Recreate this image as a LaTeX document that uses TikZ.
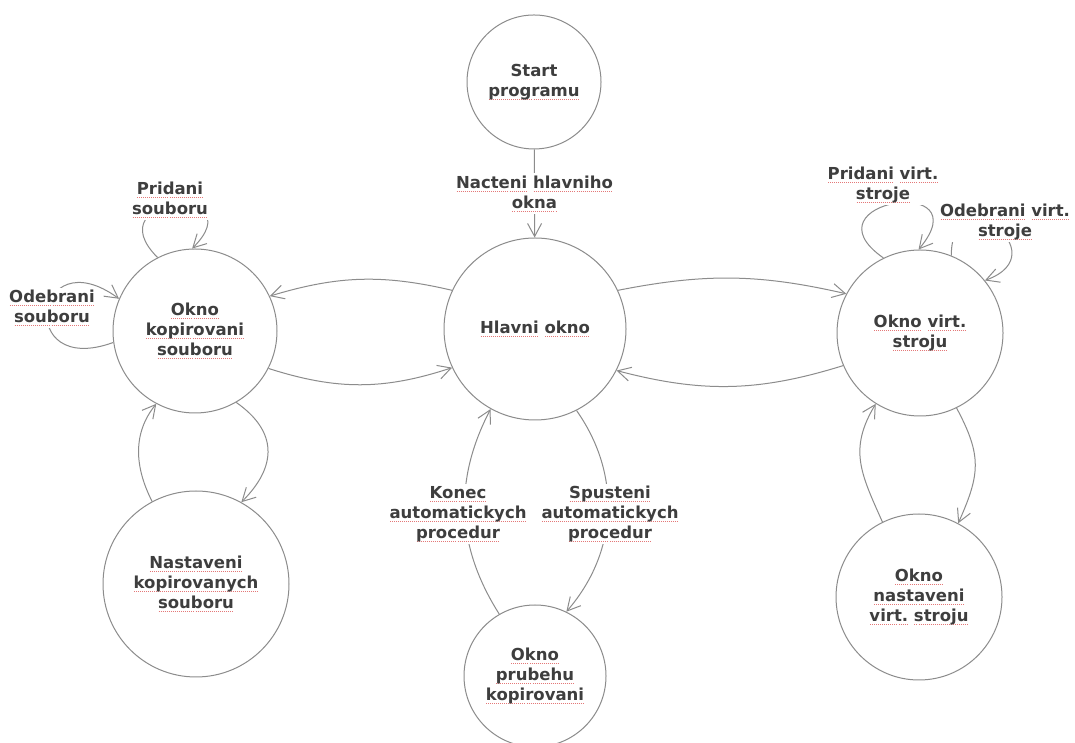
\documentclass[tikz,border=0pt]{standalone}
\usepackage{fontspec}
\setmainfont{DejaVu Sans}
\usetikzlibrary{arrows.meta}
\definecolor{edgegray}{RGB}{140,140,140}
\definecolor{txtgray}{RGB}{62,62,62}
\definecolor{sqred}{RGB}{228,120,120}
\newcommand{\sqw}[1]{\leavevmode\setbox0\hbox{#1}\rlap{\raisebox{-3.5pt}{\textcolor{sqred}{\hbox to \wd0{\xleaders\hbox to 2pt{\hss\rule{1pt}{0.9pt}\hss}\hfil}}}}\box0\relax}
\begin{document}
\begin{tikzpicture}[x=1pt,y=1pt,
  state/.style={circle, draw=edgegray, line width=1pt, inner sep=0pt},
  lbl/.style={font=\fontsize{16.5}{20}\selectfont\bfseries, text=txtgray, align=center},
  elabel/.style={lbl, fill=white, inner sep=2pt},
  edge/.style={draw=edgegray, line width=1pt, -{Straight Barb[length=13pt,width=14pt]}}]
\useasboundingbox (0,0) rectangle (1075,743);
\fill[white] (0,0) rectangle (1075,743);

% states
\node[state, lbl, minimum size=134pt] (start) at (534,661) {Start\\\sqw{programu}};
\node[state, lbl, minimum size=182pt] (main) at (535,414) {\sqw{Hlavni} \sqw{okno}};
\node[state, lbl, minimum size=164pt] (kop) at (195,412) {\sqw{Okno}\\\sqw{kopirovani}\\\sqw{souboru}};
\node[state, lbl, minimum size=186pt] (nastk) at (196,159) {\sqw{Nastaveni}\\\sqw{kopirovanych}\\\sqw{souboru}};
\node[state, lbl, minimum size=142pt] (prub) at (535,67) {\sqw{Okno}\\\sqw{prubehu}\\\sqw{kopirovani}};
\node[state, lbl, minimum size=166pt] (virt) at (920,410) {\sqw{Okno} \sqw{virt.}\\\sqw{stroju}};
\node[state, lbl, minimum size=166pt] (nastv) at (919,146) {\sqw{Okno}\\\sqw{nastaveni}\\\sqw{virt.} \sqw{stroju}};

% edges
\draw[edge] (start) -- node[elabel] (lnacteni) {\sqw{Nacteni} \sqw{hlavniho}\\\sqw{okna}} (main);
\draw[edge] (main.155) to[bend right=15] (kop.25);
\draw[edge] (kop.-27) to[bend right=18] (main.205);
\draw[edge] (main.25) to[bend left=12] (virt.152);
\draw[edge] (virt.203) to[bend left=16] (main.-27);
\draw[edge] (main.-63) to[bend left=38] (prub.64);
\draw[edge] (prub.120) to[bend left=30] (main.241);
\draw[edge] (kop.-60) to[out=-35,in=45,looseness=1.3] (nastk.61);
\draw[edge] (nastk.118) to[out=117,in=231,looseness=1] (kop.242);
\draw[edge] (virt.-64) to[out=-62,in=66,looseness=1.2] (nastv.62);
\draw[edge] (nastv.116) to[out=114,in=239,looseness=1.15] (virt.238);

% self loops
\draw[edge] (kop.117) .. controls +(135:90) and +(45:90) .. (kop.92);
\draw[edge] (kop.188) .. controls +(200:105) and +(144:105) .. (kop.157);
\draw[edge] (virt.116) .. controls +(145:100) and +(50:100) .. (virt.91);
\draw[edge] (virt.68) .. controls +(90:80) and +(20:80) .. (virt.39);

% labels
\node[elabel] (lprids) at (170,543) {\sqw{Pridani}\\\sqw{souboru}};
\node[elabel] (lodebs) at (52,435) {\sqw{Odebrani}\\\sqw{souboru}};
\node[elabel] (lpridv) at (883,558) {\sqw{Pridani} \sqw{virt.}\\\sqw{stroje}};
\node[elabel] (lodebv) at (1005,521) {\sqw{Odebrani} \sqw{virt.}\\\sqw{stroje}};
\node[elabel] (lkonec) at (458,229) {\sqw{Konec}\\\sqw{automatickych}\\\sqw{procedur}};
\node[elabel] (lspust) at (610,229) {\sqw{Spusteni}\\\sqw{automatickych}\\\sqw{procedur}};
\end{tikzpicture}
\end{document}
